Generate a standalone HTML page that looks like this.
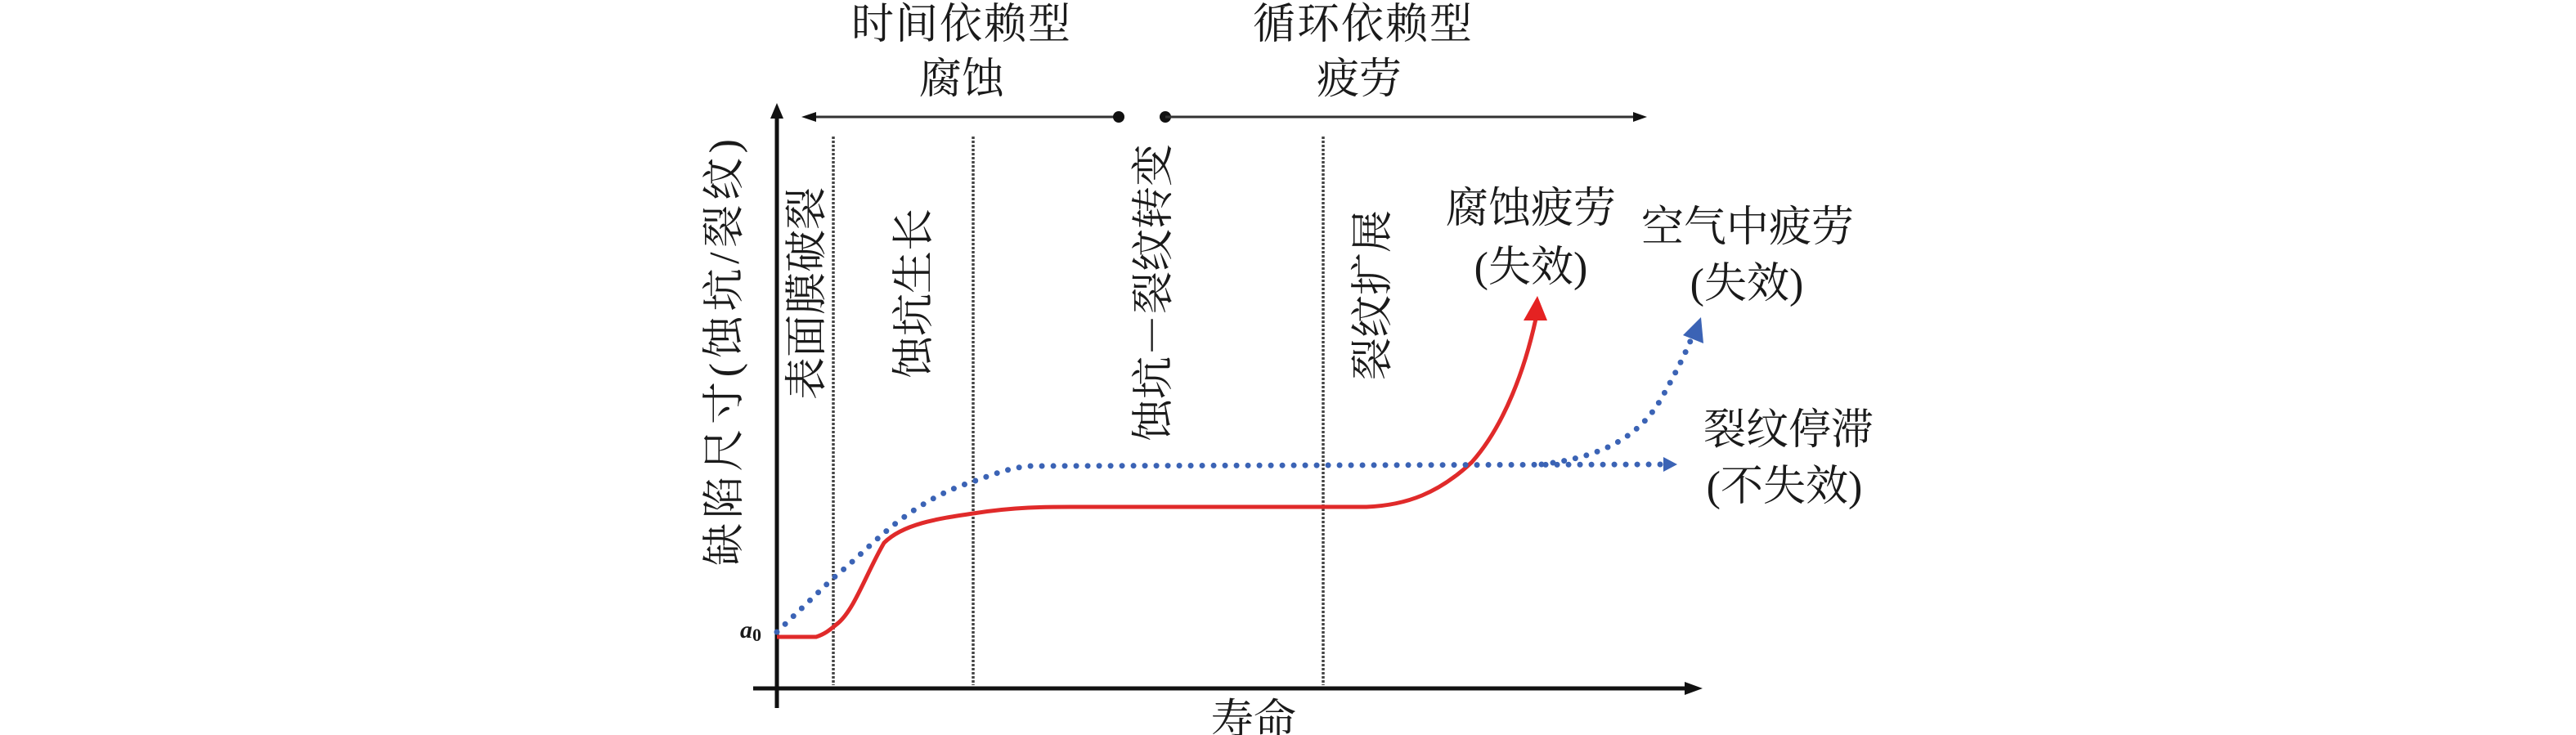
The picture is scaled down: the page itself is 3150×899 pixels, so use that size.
<!DOCTYPE html>
<html><head><meta charset="utf-8"><style>
html,body{margin:0;padding:0;background:#fff;}
svg{display:block}
text{font-family:"Liberation Serif","Noto Serif CJK SC",serif;fill:#1a1a1a;}
</style></head><body>
<svg width="3150" height="899" viewBox="0 0 3150 899" xmlns="http://www.w3.org/2000/svg">
<!-- axes -->
<line x1="950" y1="866" x2="950" y2="140" stroke="#111" stroke-width="5"/>
<path d="M942,145 L950,126 L958,145 z" fill="#111"/>
<line x1="921" y1="842" x2="2065" y2="842" stroke="#111" stroke-width="5"/>
<path d="M2060,834 L2082,842 L2060,850 z" fill="#111"/>
<!-- top arrows -->
<line x1="995" y1="143" x2="1368" y2="143" stroke="#333" stroke-width="3"/>
<path d="M998,137 L980,143 L998,149 z" fill="#111"/>
<circle cx="1368" cy="143" r="7" fill="#111"/>
<circle cx="1425" cy="143" r="7" fill="#111"/>
<line x1="1425" y1="143" x2="2000" y2="143" stroke="#333" stroke-width="3"/>
<path d="M1997,137 L2014,143 L1997,149 z" fill="#111"/>
<!-- dashed verticals -->
<g stroke="#444" stroke-width="3.5" stroke-dasharray="3 2">
<line x1="1019" y1="167" x2="1019" y2="838"/>
<line x1="1190" y1="167" x2="1190" y2="838"/>
<line x1="1618" y1="167" x2="1618" y2="838"/>
</g>
<!-- titles -->
<g font-size="52" text-anchor="middle">
<text x="1176" y="47" letter-spacing="2">时间依赖型</text>
<text x="1176" y="114">腐蚀</text>
<text x="1667" y="47" letter-spacing="2">循环依赖型</text>
<text x="1662" y="114">疲劳</text>
<text x="1533" y="898">寿命</text>
<text x="1872" y="272">腐蚀疲劳</text>
<text x="1872" y="344">(失效)</text>
<text x="2137" y="295">空气中疲劳</text>
<text x="2136" y="364">(失效)</text>
<text x="2187" y="543">裂纹停滞</text>
<text x="2182" y="612">(不失效)</text>
</g>
<text font-size="52" transform="translate(903,692) rotate(-90)" textLength="522" lengthAdjust="spacing">缺陷尺寸(蚀坑/裂纹)</text>
<g font-size="52" text-anchor="middle">
<text transform="translate(1004,359) rotate(-90)">表面膜破裂</text>
<text transform="translate(1135,359) rotate(-90)">蚀坑生长</text>
<text transform="translate(1428,358) rotate(-90)">蚀坑－裂纹转变</text>
<text transform="translate(1696,361) rotate(-90)">裂纹扩展</text>
</g>
<text x="905" y="780" font-size="30" font-style="italic" font-weight="bold" fill="#333">a<tspan font-size="22" dy="4" font-style="normal">0</tspan></text>
<!-- red curve -->
<path d="M950,779 L998,779 C1010,775 1015,770 1025,762 C1045,745 1060,700 1081,664 C1105,640 1150,634 1190,628 C1240,620 1280,620 1310,620 L1671,620 C1720,618 1760,603 1800,565 C1840,520 1865,450 1878,390" fill="none" stroke="#e02a2a" stroke-width="5"/>
<path d="M1863,392 L1880,362 L1892,392 z" fill="#e52222"/>
<!-- blue dotted -->
<g fill="none" stroke="#3b63b5" stroke-width="7" stroke-linecap="round" stroke-dasharray="0 14">
<path d="M950,773 L1019,707 C1040,690 1060,670 1081,652 C1120,618 1160,598 1190,589 C1215,580 1235,572 1260,570 L2036,568"/>
<path d="M1885,568 C1950,560 2000,540 2030,490 C2050,455 2062,430 2070,410"/>
</g>
<path d="M2034,559 L2051,568 L2034,577 z" fill="#3b63b5"/>
<path d="M2058,410 L2080,388 L2083,420 z" fill="#3b63b5"/>
</svg>
</body></html>
